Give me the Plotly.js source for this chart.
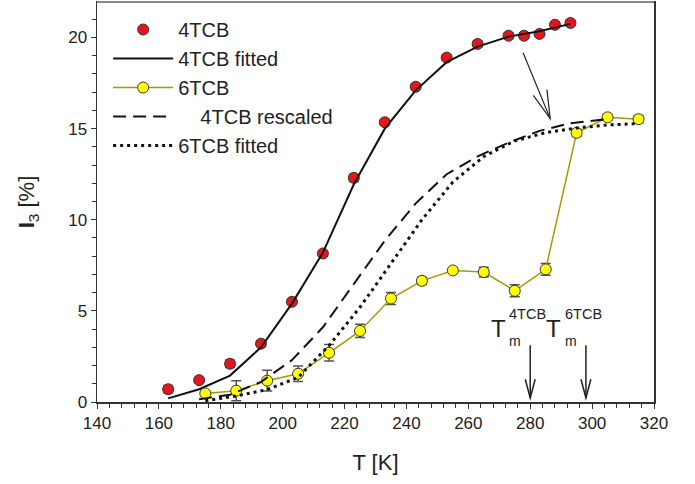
<!DOCTYPE html>
<html><head><meta charset="utf-8">
<script src="https://cdn.plot.ly/plotly-3.0.1.min.js"></script>
<style>html,body{margin:0;padding:0;background:#fff}#chart{width:695px;height:484px}</style>
</head><body><div id="chart"></div>
<script>
// 4TCB measured
const T4 = [163,173,183,193,203,213,223,233,243,253,263,273,278,283,288,293];
const I4 = [0.7,1.2,2.1,3.2,5.5,8.15,12.3,15.35,17.3,18.9,19.65,20.1,20.1,20.2,20.7,20.8];
const E4 = [0.2,0.15,0.2,0.15,0.15,0.15,0.2,0.15,0.15,0.15,0.15,0.15,0.15,0.15,0.15,0.15];
// 4TCB fitted
const T4fit = [163,173,183,193,203,213,223,233,243,253,263,273,283,293];
const I4fit = [0.2,0.7,1.45,3.0,5.4,8.2,11.95,15.0,17.1,18.65,19.5,20.05,20.35,20.75];
// 6TCB measured
const T6 = [175,185,195,205,215,225,235,245,255,265,275,285,295,305,315];
const I6 = [0.47,0.62,1.17,1.55,2.7,3.9,5.68,6.65,7.22,7.13,6.1,7.28,14.77,15.62,15.52];
const E6 = [0.15,0.55,0.57,0.43,0.45,0.36,0.33,0.2,0.15,0.27,0.33,0.32,0.2,0.15,0.2];
// 4TCB rescaled
const Tresc = [173,183,193,203,213,223,233,243,253,263,273,283,293,305];
const Iresc = [0.15,0.4,1.1,2.3,4.1,6.5,8.85,10.9,12.5,13.48,14.23,14.88,15.3,15.52];
// 6TCB fitted
const T6fit = [175,185,195,205,215,225,235,245,255,265,275,285,295,305,315];
const I6fit = [0.07,0.33,0.68,1.35,3.1,5.2,7.6,10.0,12.07,13.47,14.33,14.78,15.04,15.2,15.28];
// melting temperatures
const Tm4 = 280, Tm6 = 298;
const names = ['4TCB','4TCB fitted','6TCB','\u00a0\u00a0\u00a0\u00a04TCB rescaled','6TCB fitted'];

const FONT = 'Liberation Sans, Arial, Helvetica, sans-serif';
const traces = [
  {x:T4, y:I4, name:names[0], legendgroup:'a', type:'scatter', mode:'markers',
   marker:{color:'#e8141c', size:11, line:{color:'#333', width:1}},
   error_y:{type:'data', array:E4, visible:true, color:'#555', thickness:1.5, width:5}},
  {x:T4fit, y:I4fit, name:names[1], legendgroup:'b', type:'scatter', mode:'lines',
   line:{color:'#111', width:2}},
  {x:T6, y:I6, name:names[2], legendgroup:'c', type:'scatter', mode:'lines+markers',
   line:{color:'#a59a00', width:1.5},
   marker:{color:'#ffff00', size:11, line:{color:'#333', width:1}},
   error_y:{type:'data', array:E6, visible:true, color:'#555', thickness:1.5, width:5}},
  {x:Tresc, y:Iresc, name:names[3], legendgroup:'d', type:'scatter', mode:'lines',
   line:{color:'#111', width:2, dash:'13px,7px'}},
  {x:T6fit, y:I6fit, name:names[4], legendgroup:'e', type:'scatter', mode:'lines',
   line:{color:'#111', width:3, dash:'3px,4px'}}
];

function vArrow(t){
  return [
    {type:'line', xref:'x', yref:'y', x0:t, y0:3.12, x1:t, y1:0.22, line:{color:'#222', width:1.5}},
    {type:'path', xref:'x', yref:'y', path:`M${t-1.6},1.25 L${t},0.22 L${t+1.6},1.25`, line:{color:'#222', width:1.5}}
  ];
}
const shapes = [
  ...vArrow(Tm4), ...vArrow(Tm6),
  {type:'line', xref:'x', yref:'y', x0:277.7, y0:19.17, x1:286.45, y1:15.55, line:{color:'#222', width:1.2}},
  {type:'path', xref:'x', yref:'y', path:'M281.0,16.83 L286.45,15.55 L285.4,17.14', line:{color:'#222', width:1.2}},
  {type:'line', xref:'paper', yref:'paper', x0:0, x1:1, y0:1, y1:1, line:{color:'#888', width:2}}
];

function tmLabels(t, sup){
  return [
    {x:t-10.4, y:4.03, xref:'x', yref:'y', text:'T', showarrow:false, xanchor:'center', yanchor:'middle', font:{size:24, family:FONT, color:'#222'}},
    {x:t-7.4, y:3.35, xref:'x', yref:'y', text:'m', showarrow:false, xanchor:'left', yanchor:'middle', font:{size:14, family:FONT, color:'#222'}},
    {x:t-7.4, y:4.85, xref:'x', yref:'y', text:sup, showarrow:false, xanchor:'left', yanchor:'middle', font:{size:14.5, family:FONT, color:'#222'}}
  ];
}

const layout = {
  width:695, height:484,
  margin:{l:97, r:41, t:2, b:82},
  paper_bgcolor:'#fff', plot_bgcolor:'#fff',
  font:{family:FONT, color:'#222'},
  showlegend:true,
  legend:{x:0.02, y:0.98, xanchor:'left', yanchor:'top', bgcolor:'rgba(0,0,0,0)',
          font:{size:20, family:FONT, color:'#222'}, itemwidth:60, tracegroupgap:1, traceorder:'normal'},
  xaxis:{range:[140,320], tick0:140, dtick:20, ticks:'outside', ticklen:5, tickwidth:1, tickcolor:'#333',
         showline:true, linecolor:'#333', linewidth:1.5, mirror:true, showgrid:false, zeroline:false,
         tickfont:{size:17, family:FONT, color:'#222'},
         minor:{dtick:4, ticks:'outside', ticklen:4, tickcolor:'#333', tickwidth:1, showgrid:false},
         title:{text:'T [K]', font:{size:22, family:FONT, color:'#222'}, standoff:22}},
  yaxis:{range:[0,21.95], tick0:0, dtick:5, ticks:'outside', ticklen:5, tickwidth:1, tickcolor:'#333',
         showline:true, linecolor:'#333', linewidth:1.5, mirror:true, showgrid:false, zeroline:false,
         tickfont:{size:17, family:FONT, color:'#222'},
         minor:{dtick:1, ticks:'outside', ticklen:4, tickcolor:'#333', tickwidth:1, showgrid:false},
         title:{text:'<b>I</b><sub>3</sub> [%]', font:{size:22, family:FONT, color:'#222'}, standoff:27}},
  shapes:shapes,
  annotations:[...tmLabels(Tm4,'4TCB'), ...tmLabels(Tm6,'6TCB')]
};
Plotly.newPlot('chart', traces, layout, {displayModeBar:false, staticPlot:true});
</script></body></html>
